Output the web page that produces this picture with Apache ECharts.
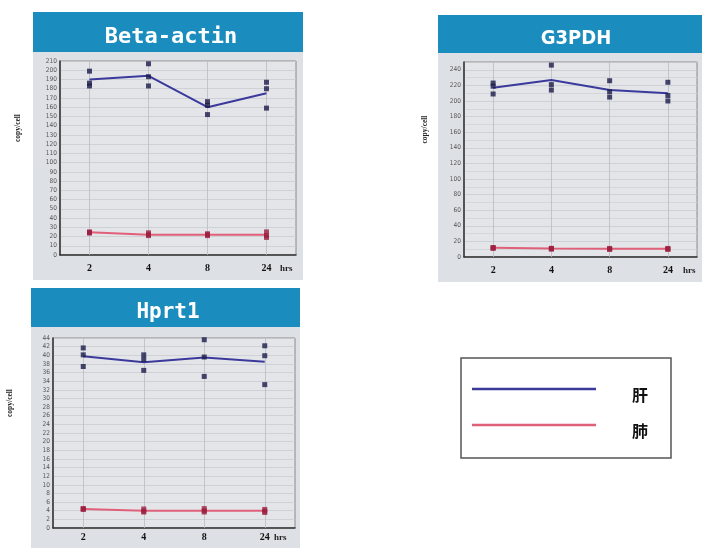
<!DOCTYPE html>
<html>
<head>
<meta charset="utf-8">
<script src="https://cdn.jsdelivr.net/npm/echarts@6/dist/echarts.min.js"></script>
<style>html,body{margin:0;padding:0;background:#fff}#c{width:702px;height:550px}</style>
</head>
<body>
<div id="c"></div>
<script>
const categories = ['2', '4', '8', '24'];
const panelTitles = ['Beta-actin', 'G3PDH', 'Hprt1'];
const seriesNames = ['肝', '肺'];
const yTitle = 'copy/cell';
const xTitle = 'hrs';

const betaLiverMean = [190, 194, 160, 175];
const betaLiverReps = [[199, 186, 183], [207, 193, 183], [166, 162, 152], [187, 180, 159]];
const betaLungMean = [24.5, 22, 22, 22];
const betaLungReps = [[25, 24, 24], [24, 22, 21], [23, 22, 21], [25, 21, 19]];

const g3LiverMean = [217, 227, 214, 210];
const g3LiverReps = [[223, 219, 209], [246, 221, 214], [226, 212, 205], [224, 207, 200]];
const g3LungMean = [12, 11, 10.5, 10.5];
const g3LungReps = [[12, 12, 11], [11, 11, 10], [11, 10, 10], [11, 10, 10]];

const hprtLiverMean = [39.8, 38.4, 39.5, 38.5];
const hprtLiverReps = [[41.7, 40.1, 37.4], [40.1, 39, 36.5], [43.6, 39.6, 35.1], [42.2, 39.9, 33.2]];
const hprtLungMean = [4.4, 4.0, 4.0, 4.0];
const hprtLungReps = [[4.5, 4.4, 4.3], [4.4, 3.9, 3.7], [4.5, 4.0, 3.7], [4.3, 3.9, 3.6]];

const yMax = [210, 250, 44];
const yStep = [10, 20, 2];

const BLUE = '#3b3a9c', RED = '#e0607a', DOT_BLUE = '#1c1c4a', DOT_RED = '#9c2040';
const HEADER = '#1a8cbd', PANEL = '#dde1e5', PLOT = '#e3e5e9';
const NARROW = "'Liberation Sans Narrow', 'DejaVu Sans Condensed', 'Liberation Sans', sans-serif";

function flat(reps) {
  const out = [];
  reps.forEach((arr, i) => arr.forEach(v => out.push([categories[i], v])));
  return out;
}

const grids = [
  { left: 60, right: 406, top: 61, bottom: 295 },
  { left: 464, right: 5, top: 62, bottom: 293 },
  { left: 53, right: 407, top: 338, bottom: 22 }
];
const nameGaps = [-16, -14, -21];
const yNameGaps = [38, 35, 39];
const labelMargins = [8, 8, 4];

const option = {
  animation: false,
  backgroundColor: '#ffffff',
  graphic: [
    { type: 'rect', shape: { x: 33, y: 52, width: 270, height: 228 }, style: { fill: PANEL }, z: -10 },
    { type: 'rect', shape: { x: 33, y: 12, width: 270, height: 40 }, style: { fill: HEADER }, z: -10 },
    { type: 'rect', shape: { x: 438, y: 53, width: 264, height: 229 }, style: { fill: PANEL }, z: -10 },
    { type: 'rect', shape: { x: 438, y: 15, width: 264, height: 38 }, style: { fill: HEADER }, z: -10 },
    { type: 'rect', shape: { x: 31, y: 327, width: 269, height: 221 }, style: { fill: PANEL }, z: -10 },
    { type: 'rect', shape: { x: 31, y: 288, width: 269, height: 39 }, style: { fill: HEADER }, z: -10 }
  ],
  title: [
    { text: panelTitles[0], left: 166, top: 32, textAlign: 'center', textVerticalAlign: 'middle',
      textStyle: { color: '#fff', fontSize: 22, fontWeight: 'bold', fontFamily: 'DejaVu Sans Mono' } },
    { text: panelTitles[1], left: 571, top: 34, textAlign: 'center', textVerticalAlign: 'middle',
      textStyle: { color: '#fff', fontSize: 20, fontWeight: 'bold', fontFamily: NARROW } },
    { text: panelTitles[2], left: 163, top: 308, textAlign: 'center', textVerticalAlign: 'middle',
      textStyle: { color: '#fff', fontSize: 21, fontWeight: 'bold', fontFamily: 'DejaVu Sans Mono' } }
  ],
  legend: {
    data: seriesNames,
    orient: 'vertical',
    left: 461, top: 358,
    padding: [17, 23, 19, 11],
    icon: 'rect',
    itemWidth: 124, itemHeight: 2.5, itemGap: 8,
    borderColor: '#555', borderWidth: 1.5,
    backgroundColor: '#fff',
    selectedMode: false,
    formatter: '{a|{name}}',
    textStyle: {
      rich: { a: { fontSize: 16, fontWeight: 'bold', color: '#111', fontFamily: 'Noto Sans CJK SC', padding: [12, 0, 0, 31], lineHeight: 19 } }
    }
  },
  grid: grids.map(g => Object.assign({ show: true, backgroundColor: PLOT, borderColor: '#888', borderWidth: 1 }, g)),
  xAxis: [0, 1, 2].map(i => ({
    type: 'category', gridIndex: i, data: categories, boundaryGap: true,
    name: xTitle, nameLocation: 'end', nameGap: nameGaps[i],
    nameTextStyle: { fontSize: 9, fontWeight: 'bold', color: '#222', fontFamily: 'Liberation Serif', verticalAlign: 'top', padding: [labelMargins[i] + 1, 0, 0, 0] },
    axisLine: { lineStyle: { color: '#333', width: 1.5 } },
    axisTick: { show: false },
    axisLabel: { margin: labelMargins[i], fontSize: 10, fontWeight: 'bold', color: '#111', fontFamily: 'Liberation Serif' },
    splitLine: { show: false }
  })),
  yAxis: [0, 1, 2].map(i => ({
    type: 'value', gridIndex: i, min: 0, max: yMax[i], interval: yStep[i],
    name: yTitle, nameLocation: 'middle', nameGap: yNameGaps[i], nameRotate: 90,
    nameTextStyle: { fontSize: 7.5, fontWeight: 'bold', color: '#222', fontFamily: 'Liberation Serif', padding: [0, 0, 0, 60] },
    axisLine: { show: true, lineStyle: { color: '#333', width: 1.5 } },
    axisTick: { show: false },
    axisLabel: { margin: 3, fontSize: 6.5, color: '#555', fontFamily: NARROW, showMaxLabel: i !== 1 },
    splitLine: { show: true, lineStyle: { color: '#c9ccd1', width: 0.8 } },
    minorTick: { show: false, splitNumber: 2 },
    minorSplitLine: { show: i === 1, lineStyle: { color: '#cfd2d6', width: 0.8 } }
  })),
  series: []
};

const sets = [
  [betaLiverMean, betaLiverReps, betaLungMean, betaLungReps],
  [g3LiverMean, g3LiverReps, g3LungMean, g3LungReps],
  [hprtLiverMean, hprtLiverReps, hprtLungMean, hprtLungReps]
];

sets.forEach((s, i) => {
  option.series.push({
    type: 'line', name: 'grid' + i, xAxisIndex: i, yAxisIndex: i, data: [], silent: true, z: 1,
    markLine: { silent: true, symbol: 'none', z: 1, label: { show: false },
      lineStyle: { color: '#b9bcc2', width: 0.8, type: 'solid' },
      data: categories.map(c => ({ xAxis: c })) }
  });
  option.series.push({
    type: 'line', name: seriesNames[0], xAxisIndex: i, yAxisIndex: i, data: s[0],
    symbol: 'none', lineStyle: { color: BLUE, width: 2 }, itemStyle: { color: BLUE }, z: 3
  });
  option.series.push({
    type: 'line', name: seriesNames[1], xAxisIndex: i, yAxisIndex: i, data: s[2],
    symbol: 'none', lineStyle: { color: RED, width: 2 }, itemStyle: { color: RED }, z: 3
  });
  option.series.push({
    type: 'scatter', name: seriesNames[0] + ' reps', xAxisIndex: i, yAxisIndex: i, data: flat(s[1]),
    symbol: 'rect', symbolSize: 5, itemStyle: { color: DOT_BLUE }, z: 6
  });
  option.series.push({
    type: 'scatter', name: seriesNames[1] + ' reps', xAxisIndex: i, yAxisIndex: i, data: flat(s[3]),
    symbol: 'rect', symbolSize: 5, itemStyle: { color: DOT_RED }, z: 6
  });
});

const chart = echarts.init(document.getElementById('c'), null, { renderer: 'canvas' });
chart.setOption(option);
</script>
</body>
</html>
